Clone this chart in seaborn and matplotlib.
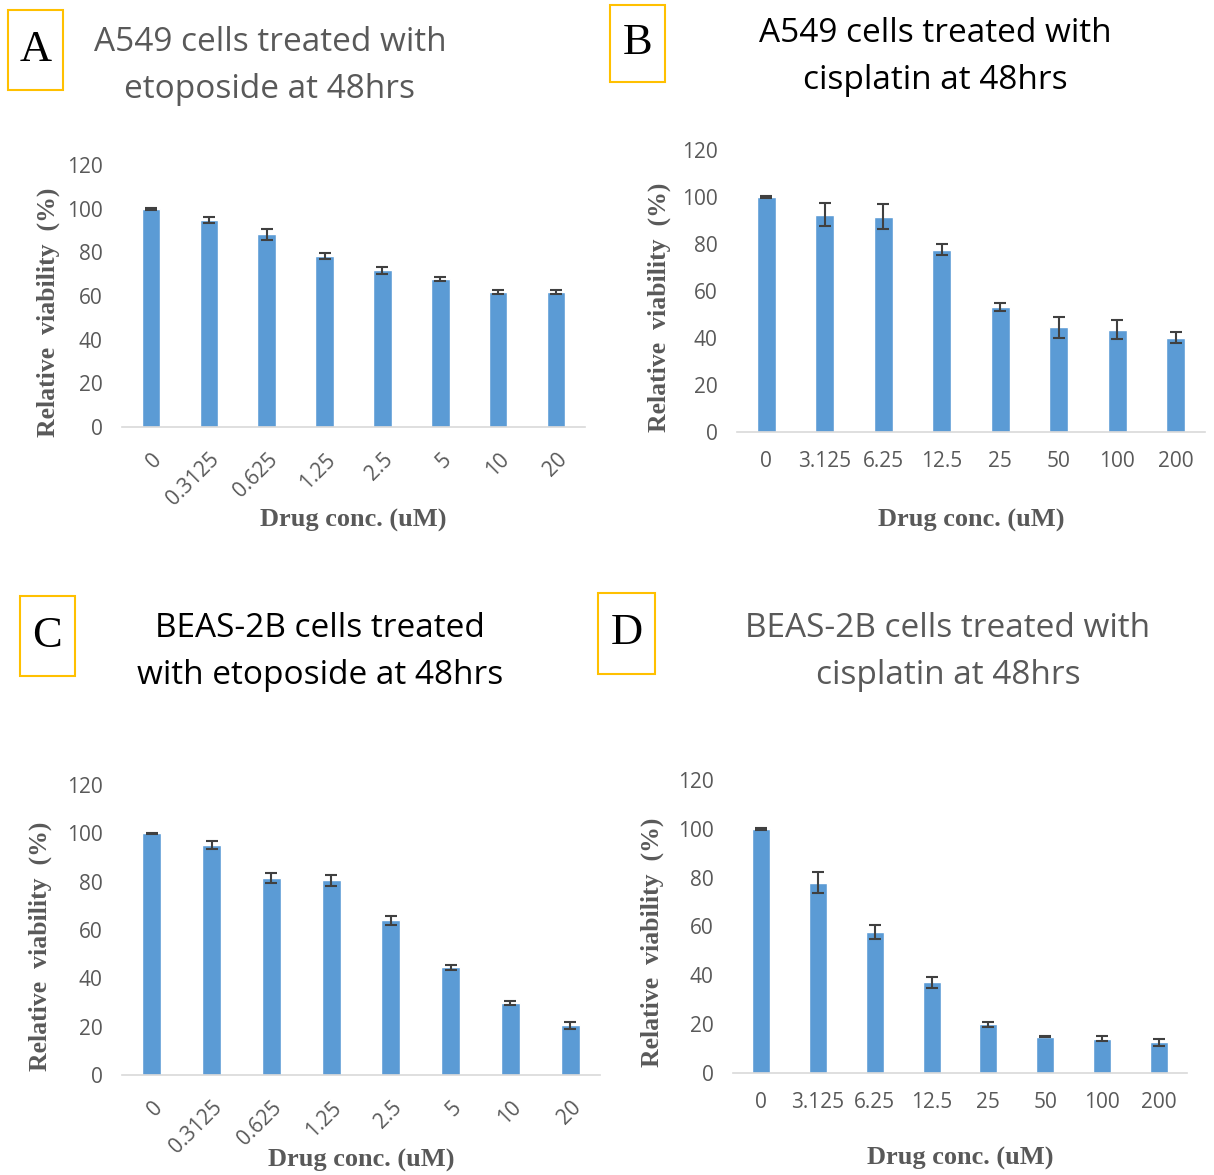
import numpy as np
import pandas as pd
import matplotlib
matplotlib.use("Agg")
import matplotlib.pyplot as plt
import matplotlib.patches as mpatches
import seaborn as sns

sns.set_theme(style="white")
plt.rcParams['font.family'] = ['Open Sans', 'DejaVu Sans']

# ---- data ----
etoposide_conc = ["0", "0.3125", "0.625", "1.25", "2.5", "5", "10", "20"]
cisplatin_conc = ["0", "3.125", "6.25", "12.5", "25", "50", "100", "200"]

a549_etoposide = [100, 94.8, 88.2, 78.3, 71.7, 67.8, 61.8, 61.8]
a549_etoposide_err = [0.4, 1.2, 2.7, 1.3, 1.6, 1.0, 1.0, 1.0]

a549_cisplatin = [100, 92.5, 91.6, 77.6, 53.1, 44.6, 43.6, 40.2]
a549_cisplatin_err = [0.3, 4.9, 5.3, 2.4, 1.8, 4.4, 4.0, 2.3]

beas_etoposide = [100, 95.1, 81.4, 80.6, 64.0, 44.5, 29.7, 20.5]
beas_etoposide_err = [0.3, 1.6, 2.0, 2.2, 1.8, 1.0, 0.8, 1.5]

beas_cisplatin = [100, 78.0, 57.8, 37.2, 20.0, 14.8, 14.0, 12.5]
beas_cisplatin_err = [0.3, 4.2, 3.0, 2.3, 1.0, 0.2, 1.0, 1.4]

titles = ["A549 cells treated with\netoposide at 48hrs",
          "A549 cells treated with\ncisplatin at 48hrs",
          "BEAS-2B cells treated\nwith etoposide at 48hrs",
          "BEAS-2B cells treated with\ncisplatin at 48hrs"]
letters = ["A", "B", "C", "D"]
ylabels = ["Relative  viability  (%)", "Relative  viability  (%)",
           "Relative  viability  (%)", "Relative  viability  (%)"]
xlabel = "Drug conc. (uM)"
yticks = [0, 20, 40, 60, 80, 100, 120]

# ---- style ----
W, H = 1214, 1175
BAR = "#5B9BD5"
GRAY = "#595959"
GOLD = "#FFC000"

fig = plt.figure(figsize=(W / 100, H / 100), dpi=100)
fig.patch.set_facecolor("white")

def fx(px):
    return px / W

def fy(py):
    return 1 - py / H

panels = [
    dict(box=(122, 165, 585, 427), cats=etoposide_conc, vals=a549_etoposide, err=a549_etoposide_err,
         rot=True, tcolor=GRAY, tpos=(270, 66), lbox=(8, 10, 63, 90), xlab_y=520, ylab_x=48),
    dict(box=(737, 150, 1205, 432), cats=cisplatin_conc, vals=a549_cisplatin, err=a549_cisplatin_err,
         rot=False, tcolor="black", tpos=(935, 57), lbox=(610, 5, 665, 82), xlab_y=520, ylab_x=659),
    dict(box=(122, 785, 600, 1075), cats=etoposide_conc, vals=beas_etoposide, err=beas_etoposide_err,
         rot=True, tcolor="black", tpos=(320, 652), lbox=(20, 596, 75, 676), xlab_y=1160, ylab_x=40),
    dict(box=(733, 780, 1187, 1073), cats=cisplatin_conc, vals=beas_cisplatin, err=beas_cisplatin_err,
         rot=False, tcolor=GRAY, tpos=(948, 652), lbox=(598, 593, 655, 674), xlab_y=1158, ylab_x=652),
]

for i, p in enumerate(panels):
    x0, y0, x1, y1 = p["box"]
    ax = fig.add_axes([fx(x0), fy(y1), fx(x1 - x0), (y1 - y0) / H])
    df = pd.DataFrame({"conc": p["cats"], "viability": p["vals"]})
    sns.barplot(data=df, x="conc", y="viability", order=p["cats"], color=BAR,
                saturation=1, width=0.32, errorbar=None, ax=ax)
    ax.errorbar(np.arange(len(p["cats"])), p["vals"], yerr=p["err"], fmt="none",
                ecolor="#404040", elinewidth=1.5, capsize=4, capthick=1.5)
    ax.set_ylim(0, 120)
    ax.set_xlim(-0.5, len(p["cats"]) - 0.5)
    ax.set_yticks(yticks)
    ax.set_yticklabels([str(t) for t in yticks], fontsize=15, color=GRAY)
    ax.tick_params(axis="y", length=0, pad=14)
    ax.tick_params(axis="x", length=0)
    if p["rot"]:
        ax.set_xticks(range(len(p["cats"])))
        ax.set_xticklabels(p["cats"], rotation=45, ha="right", rotation_mode="anchor",
                           fontsize=15, color=GRAY)
        ax.tick_params(axis="x", pad=16)
    else:
        ax.set_xticklabels(p["cats"], fontsize=15, color=GRAY)
        ax.tick_params(axis="x", pad=14)
    for s in ["top", "right", "left"]:
        ax.spines[s].set_visible(False)
    ax.spines["bottom"].set_color("#D9D9D9")
    ax.spines["bottom"].set_linewidth(1.2)
    ax.set_xlabel("")
    ax.set_ylabel("")
    ax.grid(False)

    # axis labels
    fig.text(fx((x0 + x1) / 2), fy(p["xlab_y"]), xlabel, ha="center", va="center",
             fontsize=19, fontweight="bold", color=GRAY, family="Liberation Serif")
    fig.text(fx(p["ylab_x"]), fy((y0 + y1) / 2 + 16), ylabels[i], ha="center", va="center",
             rotation=90, fontsize=18.5, fontweight="bold", color=GRAY, family="Liberation Serif")

    # title
    fig.text(fx(p["tpos"][0]), fy(p["tpos"][1]), titles[i], ha="center", va="center",
             fontsize=24, color=p["tcolor"], linespacing=1.55)

    # letter box
    bx0, by0, bx1, by1 = p["lbox"]
    rect = mpatches.Rectangle((fx(bx0), fy(by1)), fx(bx1 - bx0), (by1 - by0) / H,
                              transform=fig.transFigure, fill=False, edgecolor=GOLD, linewidth=1.5)
    fig.patches.append(rect)
    fig.text(fx((bx0 + bx1) / 2), fy((by0 + by1) / 2), letters[i], ha="center", va="center",
             fontsize=32, color="black", family="Liberation Serif")

fig.savefig("out.png", dpi=100, facecolor="white")
